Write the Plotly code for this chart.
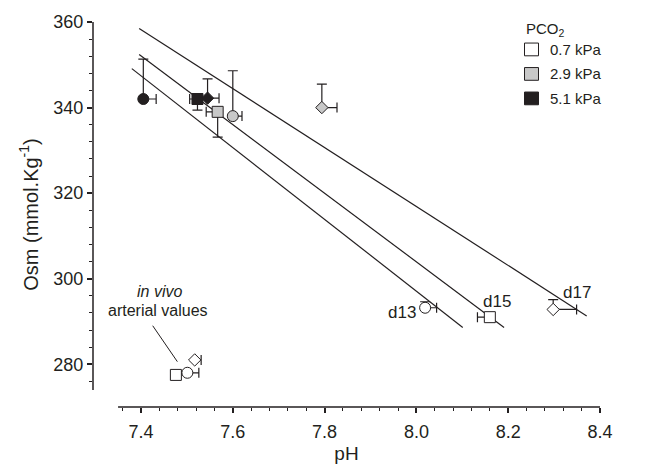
import numpy as np
import plotly.graph_objects as go

# ---------------- data ----------------
# PCO2 groups: 0 = 0.7 kPa (open), 1 = 2.9 kPa (grey), 2 = 5.1 kPa (black)
pco2_labels = ["0.7 kPa", "2.9 kPa", "5.1 kPa"]
group_fill = ["#ffffff", "#c8c8c8", "#231f20"]

ph = [7.405, 7.523, 7.545, 7.567, 7.600, 7.794, 8.019, 8.160, 8.298, 7.476, 7.501, 7.517]
osm = [342.0, 342.0, 342.2, 339.0, 338.0, 340.0, 293.2, 291.0, 292.8, 277.5, 278.0, 281.0]
ph_err_plus = [0.028, 0.0, 0.025, 0.0, 0.020, 0.033, 0.025, 0.0, 0.051, 0.0, 0.025, 0.014]
ph_err_minus = [0.0, 0.017, 0.0, 0.025, 0.0, 0.0, 0.0, 0.027, 0.0, 0.0, 0.0, 0.0]
osm_err_plus = [9.3, 0.0, 4.5, 0.0, 10.6, 5.5, 1.4, 0.0, 2.3, 0.0, 0.0, 0.0]
osm_err_minus = [0.0, 2.6, 0.0, 5.9, 0.0, 0.0, 0.0, 0.0, 0.0, 0.0, 0.0, 0.0]
symbols = ["circle", "square", "diamond", "square", "circle", "diamond",
           "circle", "square", "diamond", "square", "circle", "diamond"]
groups = [2, 2, 2, 1, 1, 1, 0, 0, 0, 0, 0, 0]

# regression lines
fit_ph_start = [7.396, 7.396, 7.380]
fit_osm_start = [358.5, 352.4, 349.1]
fit_ph_end = [8.371, 8.191, 8.101]
fit_osm_end = [291.3, 288.6, 288.6]

# day labels (point index, text)
day_points = [6, 7, 8]
day_labels = ["d13", "d15", "d17"]

x_major = [7.4, 7.6, 7.8, 8.0, 8.2, 8.4]
x_labels = ["7.4", "7.6", "7.8", "8.0", "8.2", "8.4"]
y_major = [280, 300, 320, 340, 360]
y_labels = ["280", "300", "320", "340", "360"]

# ---------------- styling ----------------
INK = "#231f20"
FONT = "Liberation Sans, Arial, sans-serif"
X_RANGE = [7.2954, 8.4]
Y_RANGE = [270.0, 360.0]

fig = go.Figure()

for i in range(len(fit_ph_start)):
    fig.add_trace(go.Scatter(
        x=[fit_ph_start[i], fit_ph_end[i]], y=[fit_osm_start[i], fit_osm_end[i]],
        mode="lines", line=dict(color=INK, width=1.2), showlegend=False, hoverinfo="skip"))

for i in range(len(ph)):
    ex_vis = (ph_err_plus[i] > 0) or (ph_err_minus[i] > 0)
    ey_vis = (osm_err_plus[i] > 0) or (osm_err_minus[i] > 0)
    is_diamond = symbols[i] == "diamond"
    fig.add_trace(go.Scatter(
        x=[ph[i]], y=[osm[i]], mode="markers",
        marker=dict(symbol=symbols[i], size=9.5 if is_diamond else 11,
                    color=group_fill[groups[i]], line=dict(color=INK, width=1)),
        error_x=dict(type="data", symmetric=False, array=[ph_err_plus[i]],
                     arrayminus=[ph_err_minus[i]], visible=ex_vis,
                     color=INK, thickness=1.2, width=5),
        error_y=dict(type="data", symmetric=False, array=[osm_err_plus[i]],
                     arrayminus=[osm_err_minus[i]], visible=ey_vis,
                     color=INK, thickness=1.2, width=5),
        showlegend=False))

x_minor = [round(v, 2) for v in np.arange(7.36, 8.4001, 0.04)
           if all(abs(v - m) > 1e-6 for m in x_major)]
y_minor = [int(v) for v in np.arange(276, 360, 4) if int(v) not in y_major]

shapes = [
    dict(type="line", xref="x", yref="paper", x0=7.35, x1=8.4, y0=0, y1=0,
         line=dict(color=INK, width=1.5)),
    dict(type="line", xref="paper", yref="y", x0=0, x1=0, y0=274, y1=360,
         line=dict(color=INK, width=1.5)),
    # connector for in-vivo label
    dict(type="line", xref="x", yref="y", x0=7.4255, y0=289.0, x1=7.4792, y1=280.6,
         line=dict(color=INK, width=1)),
]

annotations = []
day_shift = {"d13": (-7, -5, "right"), "d15": (-9, 16, "left"), "d17": (8, 17, "left")}
for idx, lab in zip(day_points, day_labels):
    xs, ys, anc = day_shift[lab]
    annotations.append(dict(x=ph[idx], y=osm[idx], xref="x", yref="y", text=lab,
                            showarrow=False, xanchor=anc, yanchor="middle",
                            xshift=xs, yshift=ys,
                            font=dict(family=FONT, size=17, color=INK)))
annotations.append(dict(x=7.441, y=296.9, xref="x", yref="y", text="<i>in vivo</i>",
                        showarrow=False, xanchor="center", yanchor="middle",
                        font=dict(family=FONT, size=16, color=INK)))
annotations.append(dict(x=7.437, y=292.5, xref="x", yref="y", text="arterial values",
                        showarrow=False, xanchor="center", yanchor="middle",
                        font=dict(family=FONT, size=16, color=INK)))

# legend (drawn manually)
W_PLOT = 663 - 93 - 63
H_PLOT = 473 - 18 - 62
def px_x(p):
    return (p - 93) / W_PLOT
def px_y(p):
    return 1 - (p - 18) / H_PLOT

annotations.append(dict(x=px_x(524), y=px_y(26), xref="paper", yref="paper",
                        text="PCO<sub>2</sub>", showarrow=False, xanchor="left",
                        yanchor="middle", font=dict(family=FONT, size=15, color=INK)))
leg_rows = [46, 71, 96]
for k, lab in enumerate(pco2_labels):
    cy = leg_rows[k]
    shapes.append(dict(type="rect", xref="paper", yref="paper",
                       x0=px_x(524.5), x1=px_x(538.5), y0=px_y(cy - 6.5), y1=px_y(cy + 6.5),
                       fillcolor=group_fill[k], line=dict(color=INK, width=1)))
    annotations.append(dict(x=px_x(548), y=px_y(cy), xref="paper", yref="paper",
                            text=lab, showarrow=False, xanchor="left", yanchor="middle",
                            font=dict(family=FONT, size=15, color=INK)))

fig.update_layout(
    width=663, height=473,
    margin=dict(l=93, r=63, t=18, b=62),
    paper_bgcolor="white", plot_bgcolor="white",
    font=dict(family=FONT, color=INK),
    showlegend=False,
    shapes=shapes, annotations=annotations,
    xaxis=dict(range=X_RANGE, showgrid=False, zeroline=False, showline=False,
               tickmode="array", tickvals=x_major, ticktext=x_labels,
               ticks="outside", ticklen=5, tickwidth=1.5, tickcolor=INK,
               ticklabelstandoff=3,
               tickfont=dict(family=FONT, size=18, color=INK),
               minor=dict(tickmode="array", tickvals=x_minor, ticks="outside",
                          ticklen=3, tickwidth=1.2, tickcolor=INK),
               title=dict(text="pH", font=dict(family=FONT, size=19, color=INK), standoff=6)),
    yaxis=dict(range=Y_RANGE, showgrid=False, zeroline=False, showline=False,
               tickmode="array", tickvals=y_major, ticktext=y_labels,
               ticks="outside", ticklen=5, tickwidth=1.5, tickcolor=INK,
               tickfont=dict(family=FONT, size=18, color=INK),
               minor=dict(tickmode="array", tickvals=y_minor, ticks="outside",
                          ticklen=3, tickwidth=1.2, tickcolor=INK),
               title=dict(text="Osm (mmol.Kg<sup>-1</sup>)",
                          font=dict(family=FONT, size=20, color=INK), standoff=9)),
)

fig.write_html("out.html")
